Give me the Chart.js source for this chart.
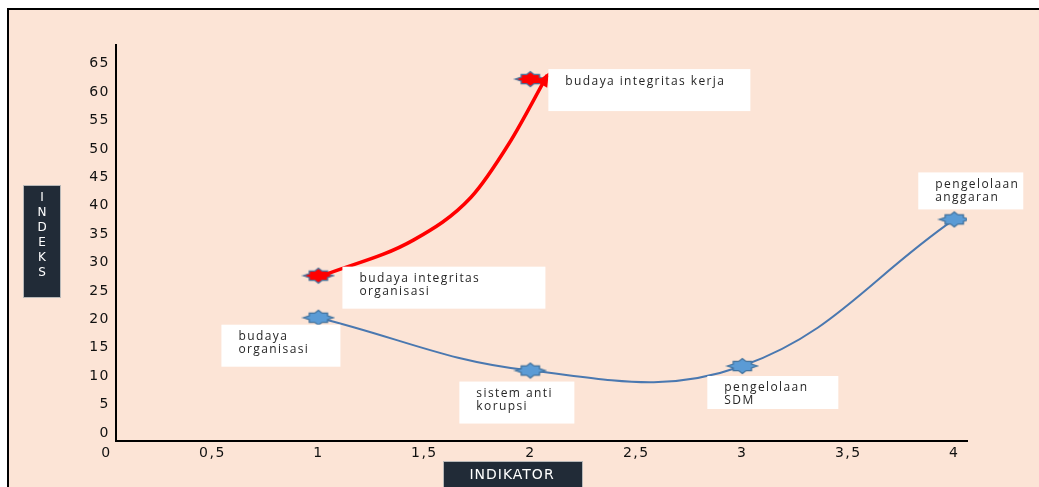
<!DOCTYPE html>
<html>
<head>
<meta charset="utf-8">
<script src="https://cdn.jsdelivr.net/npm/chart.js@4.4.1/dist/chart.umd.min.js"></script>
<style>
	html, body { margin: 0; padding: 0; background: #fff; }
	#wrap { width: 1039px; height: 487px; position: relative; }
</style>
</head>
<body>
<div id="wrap"><canvas id="canvas0" width="1039" height="487"></canvas></div>
<script>
// indikator dan nilai indeks
const indikatorX = [1, 2, 3, 4];
const indeksNilai = [20.3, 11, 11.8, 37.6];
const namaIndikator = [['budaya', 'organisasi'], ['sistem anti', 'korupsi'], ['pengelolaan', 'SDM'], ['pengelolaan', 'anggaran']];

const integritasX = [1, 2];
const integritasNilai = [27.7, 62.3];
const namaIntegritas = [['budaya integritas', 'organisasi'], ['budaya integritas kerja']];

// jalur panah merah
const panahX = [1.02, 1.45, 1.72, 1.9, 2.08];
const panahY = [27.7, 34, 41.5, 51, 63];

const xTicks = [0, 0.5, 1, 1.5, 2, 2.5, 3, 3.5, 4];
const yTicks = [0, 5, 10, 15, 20, 25, 30, 35, 40, 45, 50, 55, 60, 65];

const judulX = 'INDIKATOR';
const judulY = 'INDEKS';

// kotak label: geser dari titik (px), lebar, tinggi
const kotakIndikator = [
	{ dx: -97, dy: 7, w: 119, h: 42 },
	{ dx: -71, dy: 11, w: 115, h: 42 },
	{ dx: -35, dy: 10, w: 131, h: 33 },
	{ dx: -36, dy: -47, w: 105, h: 37 }
];
const kotakIntegritas = [
	{ dx: 24, dy: -9, w: 203, h: 42 },
	{ dx: 18, dy: -10, w: 202, h: 42 }
];

const PEACH = '#fce4d6';
const FONT = "'DejaVu Sans', sans-serif";
const FONT_LABEL = "'Open Sans', sans-serif";

function bintang(fill, stroke) {
	const c = document.createElement('canvas');
	c.width = 34; c.height = 18;
	const g = c.getContext('2d');
	const cx = 17, cy = 9;
	g.beginPath();
	for (let i = 0; i < 16; i++) {
		const a = i * Math.PI / 8;
		let r;
		if (i % 2 == 1) r = 0.66;
		else if (i % 4 == 0) r = 1;
		else r = 0.86;
		const x = cx + Math.cos(a) * 15 * r;
		const y = cy + Math.sin(a) * 7.5 * r;
		if (i == 0) g.moveTo(x, y); else g.lineTo(x, y);
	}
	g.closePath();
	g.fillStyle = fill;
	g.fill();
	g.lineWidth = 1.3;
	g.strokeStyle = stroke;
	g.stroke();
	return c;
}

const bintangBiru = bintang('#5b9bd5', '#41719c');
const bintangMerah = bintang('#ff0000', '#41719c');

const latar = {
	id: 'latar',
	beforeDraw(chart) {
		const ctx = chart.ctx;
		ctx.save();
		ctx.fillStyle = '#fff';
		ctx.fillRect(0, 0, chart.width, chart.height);
		ctx.fillStyle = PEACH;
		ctx.fillRect(8, 9, chart.width - 8, chart.height - 9);
		ctx.strokeStyle = '#000';
		ctx.lineWidth = 2;
		ctx.beginPath();
		ctx.moveTo(chart.width, 9);
		ctx.lineTo(8, 9);
		ctx.lineTo(8, chart.height);
		ctx.stroke();
		ctx.restore();
		ctx.letterSpacing = '1.5px';
	},
	beforeDatasetsDraw(chart) {
		chart.ctx.letterSpacing = '0px';
	}
};

const panah = {
	id: 'panah',
	afterDatasetsDraw(chart) {
		const ctx = chart.ctx;
		const pts = chart.getDatasetMeta(2).data;
		const p = pts[pts.length - 1];
		const q = pts[pts.length - 2];
		const a = Math.atan2(p.y - q.y, p.x - q.x);
		ctx.save();
		ctx.translate(p.x, p.y);
		ctx.rotate(a);
		ctx.fillStyle = '#ff0000';
		ctx.beginPath();
		ctx.moveTo(3, 0);
		ctx.lineTo(-11, -6);
		ctx.lineTo(-11, 6);
		ctx.closePath();
		ctx.fill();
		ctx.restore();
	}
};

function tulisKotak(ctx, x, y, box, lines) {
	ctx.fillStyle = '#fff';
	ctx.fillRect(x + box.dx, y + box.dy, box.w, box.h);
	ctx.fillStyle = '#262626';
	ctx.font = '12px ' + FONT_LABEL;
	ctx.letterSpacing = '1.4px';
	ctx.textAlign = 'left';
	ctx.textBaseline = 'middle';
	lines.forEach((t, i) => {
		ctx.fillText(t, x + box.dx + 17, y + box.dy + 12 + i * 13);
	});
	ctx.letterSpacing = '0px';
}

const label = {
	id: 'label',
	afterDraw(chart) {
		const ctx = chart.ctx;
		const sx = chart.scales.x, sy = chart.scales.y;
		ctx.save();
		indikatorX.forEach((v, i) => {
			tulisKotak(ctx, sx.getPixelForValue(v), sy.getPixelForValue(indeksNilai[i]), kotakIndikator[i], namaIndikator[i]);
		});
		integritasX.forEach((v, i) => {
			tulisKotak(ctx, sx.getPixelForValue(v), sy.getPixelForValue(integritasNilai[i]), kotakIntegritas[i], namaIntegritas[i]);
		});

		// judul sumbu dalam kotak gelap
		ctx.fillStyle = '#212b37';
		ctx.strokeStyle = '#b8b8b8';
		ctx.lineWidth = 1;
		ctx.fillRect(23, 185, 38, 113);
		ctx.strokeRect(23.5, 185.5, 37, 112);
		ctx.fillRect(443, 461, 140, 30);
		ctx.strokeRect(443.5, 461.5, 139, 30);

		ctx.fillStyle = '#fff';
		ctx.textAlign = 'center';
		ctx.textBaseline = 'middle';
		ctx.font = '12px ' + FONT;
		judulY.split('').forEach((h, i) => {
			ctx.fillText(h, 42, 198 + i * 15);
		});
		ctx.font = '14px ' + FONT;
		ctx.letterSpacing = '1px';
		ctx.fillText(judulX, 512, 475);
		ctx.letterSpacing = '0px';
		ctx.restore();
	}
};

const ctx0 = document.getElementById('canvas0').getContext('2d');

new Chart(ctx0, {
	type: 'scatter',
	data: {
		datasets: [{
			data: indikatorX.map((x, i) => ({ x: x, y: indeksNilai[i] })),
			showLine: true,
			borderColor: '#4a78b0',
			borderWidth: 2,
			tension: 0.4,
			pointStyle: bintangBiru,
			order: 3
		}, {
			data: integritasX.map((x, i) => ({ x: x, y: integritasNilai[i] })),
			showLine: false,
			pointStyle: bintangMerah,
			order: 2
		}, {
			data: panahX.map((x, i) => ({ x: x, y: panahY[i] })),
			showLine: true,
			borderColor: '#ff0000',
			borderWidth: 3.5,
			cubicInterpolationMode: 'monotone',
			pointRadius: 0,
			order: 1
		}]
	},
	options: {
		responsive: false,
		animation: false,
		layout: { padding: { top: 45, right: 72, left: 0, bottom: 0 } },
		plugins: {
			legend: { display: false },
			tooltip: { enabled: false }
		},
		scales: {
			x: {
				type: 'linear',
				min: 0.045,
				max: 4.06,
				afterBuildTicks: s => { s.ticks = xTicks.map(v => ({ value: v })); },
				afterFit: s => { s.height = 46; },
				grid: { display: false, drawTicks: false },
				border: { display: true, color: '#000', width: 2 },
				ticks: {
					autoSkip: false,
					maxRotation: 0,
					padding: 4,
					color: '#111',
					font: { family: FONT, size: 14 },
					callback: v => String(v).replace('.', ',')
				}
			},
			y: {
				min: -1.4,
				max: 68.3,
				afterBuildTicks: s => { s.ticks = yTicks.map(v => ({ value: v })); },
				afterFit: s => { s.width = 116; },
				grid: { display: false, drawTicks: false },
				border: { display: true, color: '#000', width: 2 },
				ticks: {
					autoSkip: false,
					padding: 6,
					color: '#111',
					font: { family: FONT, size: 14 }
				}
			}
		}
	},
	plugins: [latar, panah, label]
});
</script>
</body>
</html>
